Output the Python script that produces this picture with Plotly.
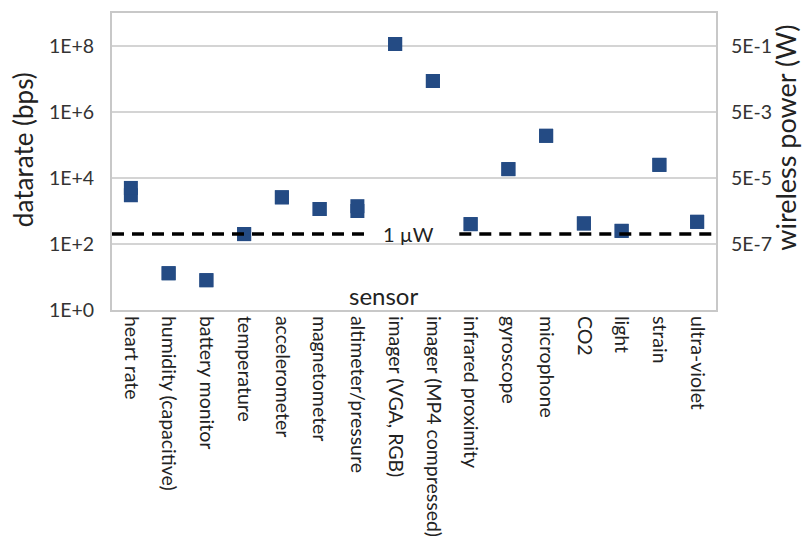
import math
import plotly.graph_objects as go

# Sensor datarates (bps); two readings where a sensor spans a small range
sensors = [
    "heart rate", "humidity (capacitive)", "battery monitor", "temperature",
    "accelerometer", "magnetometer", "altimeter/pressure", "imager (VGA, RGB)",
    "imager (MP4 compressed)", "infrared proximity", "gyroscope", "microphone",
    "CO2", "light", "strain", "ultra-violet",
]
rate_low = [3000, 13, 8, 200, 2600, 1150, 1000, 1.15e8,
            8.7e6, 400, 18600, 1.9e5, 420, 250, 25000, 470]
rate_high = [5000, 13, 8, 200, 2600, 1150, 1400, 1.15e8,
             8.7e6, 400, 18600, 1.9e5, 420, 250, 25000, 470]

# Left axis ticks (datarate) and right axis ticks (wireless power)
rate_ticks = [1, 1e2, 1e4, 1e6, 1e8]
rate_tick_text = ["1E+0", "1E+2", "1E+4", "1E+6", "1E+8"]
power_ticks = [5e-7, 5e-5, 5e-3, 5e-1]
power_tick_text = ["5E-7", "5E-5", "5E-3", "5E-1"]
watts_per_bps = 5e-9
power_threshold_w = 1e-6  # 1 µW reference line

FONT = "Lato"
MARK = "#244B84"
x_idx = list(range(len(sensors)))

fig = go.Figure()
for vals in (rate_low, rate_high):
    fig.add_trace(go.Scatter(
        x=x_idx, y=vals, mode="markers", yaxis="y",
        marker=dict(symbol="square", size=14, color=MARK,
                    line=dict(width=0)),
        showlegend=False, hoverinfo="skip",
    ))

# 1 µW threshold on the power axis, broken around its label
fig.add_trace(go.Scatter(
    x=[-0.5, 6.3, None, 8.7, 15.5],
    y=[power_threshold_w, power_threshold_w, None,
       power_threshold_w, power_threshold_w],
    mode="lines", yaxis="y2",
    line=dict(color="black", width=3.5, dash="12px,8px"),
    showlegend=False, hoverinfo="skip", connectgaps=False,
))

fig.update_layout(
    width=811, height=537,
    margin=dict(l=112, r=95, t=13, b=227, autoexpand=False),
    paper_bgcolor="white", plot_bgcolor="white",
    font=dict(family=FONT, color="#222222"),
    xaxis=dict(
        range=[-0.5, len(sensors) - 0.5], automargin=False,
        tickmode="array", tickvals=x_idx, ticktext=sensors,
        tickangle=90, tickfont=dict(size=19.5, color="#222222"),
        showgrid=False, zeroline=False,
        showline=True, linecolor="#C8C8C8", linewidth=2, mirror=True,
        ticks="",
    ),
    yaxis=dict(
        type="log", range=[0, 9], automargin=False,
        tickmode="array", tickvals=rate_ticks, ticktext=rate_tick_text,
        tickfont=dict(size=19.5, color="#333333"),
        showgrid=True, gridcolor="#D4D4D4", gridwidth=1.5,
        zeroline=False, showline=True, linecolor="#C8C8C8", linewidth=2,
        mirror=True, ticks="", ticklabelstandoff=12,
    ),
    yaxis2=dict(
        type="log", overlaying="y", side="right", automargin=False,
        range=[math.log10(watts_per_bps), 9 + math.log10(watts_per_bps)],
        tickmode="array", tickvals=power_ticks, ticktext=power_tick_text,
        tickfont=dict(size=19.5, color="#333333"),
        showgrid=False, zeroline=False, showline=False,
        ticks="", ticklabelstandoff=14,
    ),
    annotations=[
        dict(text="datarate (bps)", xref="paper", yref="paper",
             x=-0.147, y=0.539, textangle=-90, showarrow=False,
             font=dict(size=26, color="#222222"),
             xanchor="center", yanchor="middle"),
        dict(text="wireless power (W)", xref="paper", yref="paper",
             x=1.116, y=0.58, textangle=-90, showarrow=False,
             font=dict(size=27, color="#222222"),
             xanchor="center", yanchor="middle"),
        dict(text="1 µW", xref="x", yref="y2",
             x=7.35, y=math.log10(power_threshold_w), showarrow=False,
             font=dict(size=20, color="#222222"),
             xanchor="center", yanchor="middle"),
        dict(text="sensor", xref="paper", yref="paper",
             x=0.449, y=0.05, showarrow=False,
             font=dict(size=24, color="#222222"),
             xanchor="center", yanchor="middle"),
    ],
)

fig.write_html("out.html")
